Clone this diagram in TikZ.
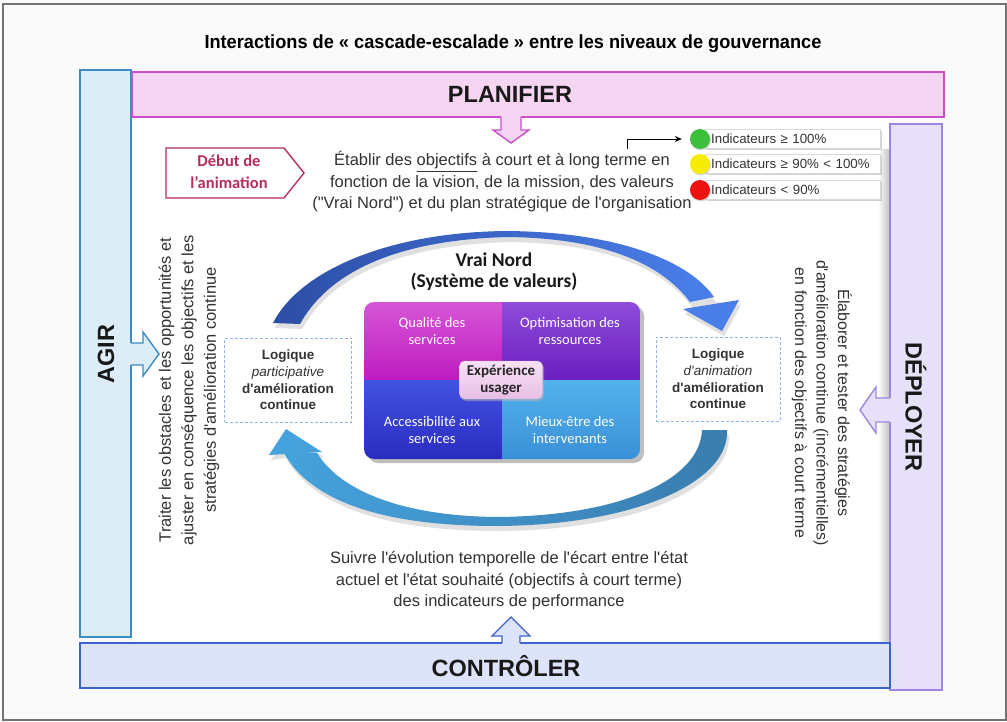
\documentclass[tikz,border=0pt]{standalone}
\usepackage{fontspec}
\setmainfont{Liberation Sans}[Ligatures=TeXOff]
\newfontfamily\calib{Carlito}
\usetikzlibrary{arrows.meta,shadows}
\definecolor{planfill}{HTML}{F5D5F2}
\definecolor{planline}{HTML}{C94FCB}
\definecolor{agirfill}{HTML}{DDEDF8}
\definecolor{agirline}{HTML}{3B8BC5}
\definecolor{depfill}{HTML}{E6E1F8}
\definecolor{depline}{HTML}{9C85E3}
\definecolor{ctrlfill}{HTML}{DDE3F8}
\definecolor{ctrlline}{HTML}{3B63C9}
\definecolor{debut}{HTML}{B52E5C}
\definecolor{bodytext}{HTML}{333333}
\definecolor{logline}{HTML}{8EB4EA}
\definecolor{arcA}{HTML}{2D4EA6}
\definecolor{arcM}{HTML}{3A5FC6}
\definecolor{arcB}{HTML}{4A7FEA}
\definecolor{arcC}{HTML}{45A2DC}
\definecolor{arcN}{HTML}{62B6E6}
\definecolor{arcD}{HTML}{3A7CAE}
\definecolor{qA1}{HTML}{D656D6}\definecolor{qA2}{HTML}{BE1CC0}
\definecolor{qB1}{HTML}{8E4CDA}\definecolor{qB2}{HTML}{6A1EC0}
\definecolor{qC1}{HTML}{4252E2}\definecolor{qC2}{HTML}{2A2CC0}
\definecolor{qD1}{HTML}{52B2EC}\definecolor{qD2}{HTML}{3A90D6}
\definecolor{expA}{HTML}{F8E2F6}\definecolor{expB}{HTML}{E6BEE4}
\definecolor{green1}{HTML}{3CBF3C}
\definecolor{yellow1}{HTML}{F6EE00}
\definecolor{red1}{HTML}{EE1111}
\tikzset{
  barline/.style={line width=1.6pt},
  bartext/.style={font=\fontsize{23.5}{26}\selectfont\bfseries, text=black!90, inner sep=0pt},
  body/.style={font=\fontsize{16.5}{21.5}\selectfont, text=bodytext, align=center, inner sep=0pt},
  quad/.style={font=\calib\fontsize{14.5}{17}\selectfont, text=white, align=center, inner sep=0pt},
  logbox/.style={draw=logline, dash pattern=on 3pt off 2pt, line width=1pt, minimum width=127pt, minimum height=84pt, align=center, font=\fontsize{13.5}{16.7}\selectfont\bfseries, text=black!80, inner sep=0pt},
  legbox/.style={draw=black!15, fill=white, drop shadow={shadow xshift=1.5pt, shadow yshift=-2pt, fill=black!35}, minimum width=175pt, minimum height=19pt, anchor=west, font=\fontsize{13.3}{14}\selectfont, text=bodytext, inner xsep=6pt, text width=163pt, align=left},
  dot/.style={circle, minimum size=20pt, inner sep=0pt, drop shadow={shadow xshift=1pt, shadow yshift=-1.5pt, fill=black!30}},
}
\begin{document}
\begin{tikzpicture}[x=1pt,y=-1pt]
\useasboundingbox (0,0) rectangle (1007,722);
\fill[black!2] (0,0) rectangle (1007,722);
\draw[black!55, line width=1.2pt] (3,4) rectangle (1006,720);
% inner panel
\fill[white] (131,117) rectangle (890,643);
\shade[left color=white, right color=black!25] (878,150) rectangle (890,643);

% title
\node[font=\fontsize{19}{22}\selectfont\bfseries, inner sep=0pt] (title) at (513,44) {\resizebox{617pt}{\height}{Interactions de « cascade-escalade » entre les niveaux de gouvernance}};

% bars
\draw[barline, draw=agirline, fill=agirfill] (80,70) rectangle (131,637);
\draw[barline, draw=planline, fill=planfill] (132,72) rectangle (944,117);
\draw[barline, draw=depline, fill=depfill] (890,124) rectangle (942,690);
\draw[barline, draw=ctrlline, fill=ctrlfill] (80,643) rectangle (890,688);

\node[bartext] (planifier) at (510,94) {PLANIFIER};
\node[bartext, rotate=90] (agir) at (106,354) {AGIR};
\node[bartext, rotate=-90] (deployer) at (916,407) {DÉPLOYER};
\node[bartext] (controler) at (506,666) {CONTRÔLER};

% block arrows
\fill[planfill] (501,115) -- (501,130) -- (493,130) -- (511,143) -- (529,130) -- (521,130) -- (521,115) -- cycle;
\draw[planline, line width=1.4pt] (501,117) -- (501,130) -- (493,130) -- (511,143) -- (529,130) -- (521,130) -- (521,117);

\fill[agirfill] (129,343) -- (143,343) -- (143,332) -- (159,354) -- (143,376) -- (143,365) -- (129,365) -- cycle;
\draw[agirline, line width=1.4pt] (131,343) -- (143,343) -- (143,332) -- (159,354) -- (143,376) -- (143,365) -- (131,365);

\fill[depfill] (892,398) -- (876,398) -- (876,387) -- (860,410) -- (876,433) -- (876,422) -- (892,422) -- cycle;
\draw[depline, line width=1.4pt] (890,398) -- (876,398) -- (876,387) -- (860,410) -- (876,433) -- (876,422) -- (890,422);

\fill[ctrlfill] (502,645) -- (502,636) -- (492,636) -- (511,617) -- (530,636) -- (520,636) -- (520,645) -- cycle;
\draw[ctrlline, line width=1.4pt] (502,643) -- (502,636) -- (492,636) -- (511,617) -- (530,636) -- (520,636) -- (520,643);

% Debut de l'animation
\draw[debut, line width=1.4pt, fill=white] (166,148) -- (284,148) -- (304,173) -- (284,198) -- (166,198) -- cycle;
\node[font=\calib\fontsize{16.5}{22}\selectfont\bfseries, text=debut, align=center, inner sep=0pt] (debut) at (229,172) {Début de\\l’animation};

\node[body] (etablir) at (502,182) {Établir des \underline{objectifs} à court et à long terme en\\fonction de la vision, de la mission, des valeurs\\("Vrai Nord") et du plan stratégique de l'organisation};

% legend
\node[legbox] (leg1) at (705,139) {Indicateurs ≥ 100\%};
\node[legbox] (leg2) at (705,164) {Indicateurs ≥ 90\% < 100\%};
\node[legbox] (leg3) at (705,190) {Indicateurs < 90\%};
\node[dot, fill=green1] (green) at (700,139) {};
\node[dot, fill=yellow1] (yellow) at (700,164) {};
\node[dot, fill=red1] (red) at (700,190) {};
\coordinate (legstart) at (627,149);
\draw[black, line width=0.8pt, -{Stealth[length=7pt,width=6pt]}] (legstart) |- ([xshift=-8pt]green.west);

% side texts
\node[body, rotate=90, font=\fontsize{16.5}{22.5}\selectfont] (agirtext) at (189,390) {Traiter les obstacles et les opportunités et\\ajuster en conséquence les objectifs et les\\stratégies d'amélioration continue};
\node[body, rotate=-90, font=\fontsize{16}{21.5}\selectfont] (deptext) at (822,403) {Élaborer et tester des stratégies\\d'amélioration continue (incrémentielles)\\en fonction des objectifs à court terme};

\node[body] (suivre) at (509,581) {Suivre l'évolution temporelle de l'écart entre l'état\\actuel et l'état souhaité (objectifs à court terme)\\des indicateurs de performance};

% arcs shadows
\begin{scope}[shift={(2,5)}]
\fill[black!12] (273,323) .. controls (300,270) and (390,232) .. (507,231) .. controls (620,232) and (690,262) .. (714,297) -- (739,300) -- (722,331) -- (683,309) -- (690,302) .. controls (660,262) and (600,238) .. (507,237) .. controls (400,240) and (330,270) .. (300,324) -- cycle;
\fill[black!12] (727,430) .. controls (730,480) and (640,525) .. (497,526) .. controls (380,526) and (310,500) .. (284,453) -- (269,455) -- (286,429) -- (322,452) -- (317,453) .. controls (340,490) and (400,516) .. (497,517) .. controls (620,516) and (700,480) .. (702,430) -- cycle;
\end{scope}
% top arc
\shade[left color=arcA, middle color=arcM, right color=arcB] (273,323) .. controls (300,270) and (390,232) .. (507,231) .. controls (620,232) and (690,262) .. (714,297) -- (690,302) .. controls (660,262) and (600,238) .. (507,237) .. controls (400,240) and (330,270) .. (300,324) -- cycle;
\fill[arcB] (683,309) -- (739,300) -- (722,331) -- cycle;
% bottom arc
\shade[left color=arcC, middle color=arcN, right color=arcD] (727,430) .. controls (730,480) and (640,525) .. (497,526) .. controls (380,526) and (310,500) .. (284,453) -- (317,453) .. controls (340,490) and (400,516) .. (497,517) .. controls (620,516) and (700,480) .. (702,430) -- cycle;
\fill[arcC] (269,455) -- (322,452) -- (286,429) -- cycle;

% Vrai Nord
\node[font=\calib\fontsize{19.5}{21}\selectfont\bfseries, align=center, inner sep=0pt, text=black!90] (vrainord) at (494,272) {Vrai Nord\\(Système de valeurs)};

% matrix
\fill[black!25, rounded corners=10pt] (368,306) rectangle (644,463);
\begin{scope}
\clip[rounded corners=10pt] (364,302) rectangle (640,459);
\shade[top color=qA1, bottom color=qA2] (364,302) rectangle (502,380);
\shade[top color=qB1, bottom color=qB2] (502,302) rectangle (640,380);
\shade[top color=qC1, bottom color=qC2] (364,380) rectangle (502,459);
\shade[top color=qD1, bottom color=qD2] (502,380) rectangle (640,459);
\end{scope}
\node[quad] (qualite) at (432,331) {Qualité des\\services};
\node[quad] (optim) at (570,331) {Optimisation des\\ressources};
\node[quad] (access) at (432,430) {Accessibilité aux\\services};
\node[quad] (mieux) at (570,430) {Mieux-être des\\intervenants};
\node[draw=black!25, top color=expA, bottom color=expB, rounded corners=5pt, minimum width=83pt, minimum height=38pt, align=center, font=\calib\fontsize{15}{17.5}\selectfont\bfseries, text=black!85, inner sep=0pt, drop shadow={shadow xshift=1.5pt, shadow yshift=-2pt, fill=black!30}] (exp) at (501,380) {Expérience\\usager};

% logique boxes
\node[logbox] (logL) at (288,380) {Logique\\\textmd{\textit{participative}}\\d'amélioration\\continue};
\node[logbox, minimum width=124pt] (logR) at (718,379) {Logique\\\textmd{\textit{d'animation}}\\d'amélioration\\continue};
\end{tikzpicture}
\end{document}
